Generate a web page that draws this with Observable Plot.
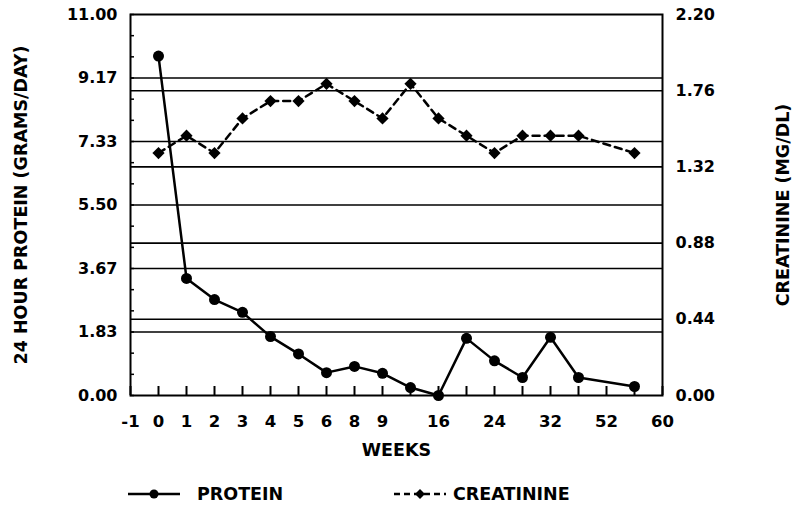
<!DOCTYPE html>
<html>
<head>
<meta charset="utf-8">
<script src="https://cdn.jsdelivr.net/npm/d3@7"></script>
<script src="https://cdn.jsdelivr.net/npm/@observablehq/plot@0.6"></script>
<style>
  html, body { margin: 0; padding: 0; background: white; }
  #wrap { position: relative; width: 800px; height: 514px; background: white; }
  #legend { position: absolute; left: 0; top: 470px; width: 800px; height: 44px;
            font-family: "DejaVu Sans", sans-serif; font-weight: bold; font-size: 17.5px; color: black; }
  #legend .item { position: absolute; top: 13px; height: 22px; line-height: 22px; }
  #legend svg { position: absolute; top: 15px; }
</style>
</head>
<body>
<div id="wrap">
  <div id="chart"></div>
  <div id="legend">
    <svg style="left:126px" width="56" height="18">
      <line x1="2" y1="9" x2="54" y2="9" stroke="black" stroke-width="2.5"></line>
      <circle cx="28" cy="9" r="4.5" fill="black"></circle>
    </svg>
    <span class="item" style="left:197px">PROTEIN</span>
    <svg style="left:392px" width="56" height="18">
      <line x1="2" y1="9" x2="54" y2="9" stroke="black" stroke-width="2.5" stroke-dasharray="6,4"></line>
      <path d="M28,4 L33,9 L28,14 L23,9 Z" fill="black"></path>
    </svg>
    <span class="item" style="left:453px">CREATININE</span>
  </div>
</div>
<script>
// categorical week slots (evenly spaced on the axis)
const weeks = ["-1","0","1","2","3","4","5","6","8","9","12","16","20","24","28","32","40","52","56","60"];
const weekTickLabels = ["-1","0","1","2","3","4","5","6","8","9","16","24","32","52","60"];

// measured series
const seriesWeeks = ["0","1","2","3","4","5","6","8","9","12","16","20","24","28","32","40","56"];
const protein     = [9.8,3.38,2.77,2.4,1.7,1.2,0.66,0.84,0.64,0.23,0.0,1.65,1.0,0.52,1.68,0.52,0.26];
const creatinine  = [1.4,1.5,1.4,1.6,1.7,1.7,1.8,1.7,1.6,1.8,1.6,1.5,1.4,1.5,1.5,1.5,1.4];

// axes
const proteinMax = 11.0;
const creatinineMax = 2.2;
const proteinTicks = [0, 1.8333, 3.6667, 5.5, 7.3333, 9.1667, 11.0];
const creatinineTicks = [0, 0.44, 0.88, 1.32, 1.76, 2.2];
const proteinMinorTicks = d3.range(0, 19).map(i => i * proteinMax / 18);

const k = proteinMax / creatinineMax; // creatinine -> left-axis units

const data = seriesWeeks.map((w, i) => ({week: w, protein: protein[i], creatinine: creatinine[i]}));
const slots = weeks.map(w => ({week: w}));

const font = "DejaVu Sans";
const gridStyle = {stroke: "black", strokeOpacity: 1, strokeWidth: 1.6};

const chart = Plot.plot({
  width: 800,
  height: 470,
  marginLeft: 130,
  marginRight: 138,
  marginTop: 14,
  marginBottom: 75,
  style: {fontFamily: font, fontWeight: "bold", fontSize: "16px", color: "black", background: "white"},
  x: {type: "point", domain: weeks, padding: 0},
  y: {domain: [0, proteinMax]},
  marks: [
    Plot.gridY(proteinTicks.slice(1, -1), gridStyle),
    Plot.gridY(creatinineTicks.slice(1, -1).map(v => v * k), gridStyle),
    // inner minor ticks, left
    Plot.axisY(proteinMinorTicks, {anchor: "left", tickSize: 4, dx: 4, strokeWidth: 1.5, tickFormat: () => "", label: null}),
    // inner ticks, bottom
    Plot.tickX(slots, {x: "week", insetTop: 372, stroke: "black", strokeWidth: 2}),
    // tick labels
    Plot.axisY(proteinTicks, {anchor: "left", tickSize: 0, tickPadding: 13, fontSize: 16, fontWeight: "bold",
      tickFormat: d => d.toFixed(2), label: null}),
    Plot.axisY(creatinineTicks.map(v => v * k), {anchor: "right", tickSize: 0, tickPadding: 13, fontSize: 16, fontWeight: "bold",
      tickFormat: d => (d / k).toFixed(2), label: null}),
    Plot.axisX(weekTickLabels, {anchor: "bottom", tickSize: 0, tickPadding: 20, fontSize: 16.5, fontWeight: "bold", label: null}),
    // axis titles
    Plot.axisY([], {anchor: "left", label: "24 HOUR PROTEIN (GRAMS/DAY)", labelAnchor: "center", labelArrow: "none",
      labelOffset: 116, fontSize: 17.5, fontWeight: "bold"}),
    Plot.axisY([], {anchor: "right", label: "CREATININE (MG/DL)", labelAnchor: "center", labelArrow: "none",
      labelOffset: 126, fontSize: 17.5, fontWeight: "bold"}),
    Plot.axisX([], {anchor: "bottom", label: "WEEKS", labelAnchor: "center", labelArrow: "none",
      labelOffset: 60, fontSize: 17.5, fontWeight: "bold"}),
    Plot.frame({stroke: "black", strokeWidth: 2}),
    // series
    Plot.line(data, {x: "week", y: d => d.creatinine * k, stroke: "black", strokeWidth: 2.5, strokeDasharray: "7,5"}),
    Plot.dot(data, {x: "week", y: d => d.creatinine * k, symbol: "diamond2", r: 5.5, fill: "black", stroke: "none"}),
    Plot.line(data, {x: "week", y: "protein", stroke: "black", strokeWidth: 2.5}),
    Plot.dot(data, {x: "week", y: "protein", symbol: "circle", r: 5.5, fill: "black", stroke: "none"})
  ]
});
document.getElementById("chart").appendChild(chart);
</script>
</body>
</html>
